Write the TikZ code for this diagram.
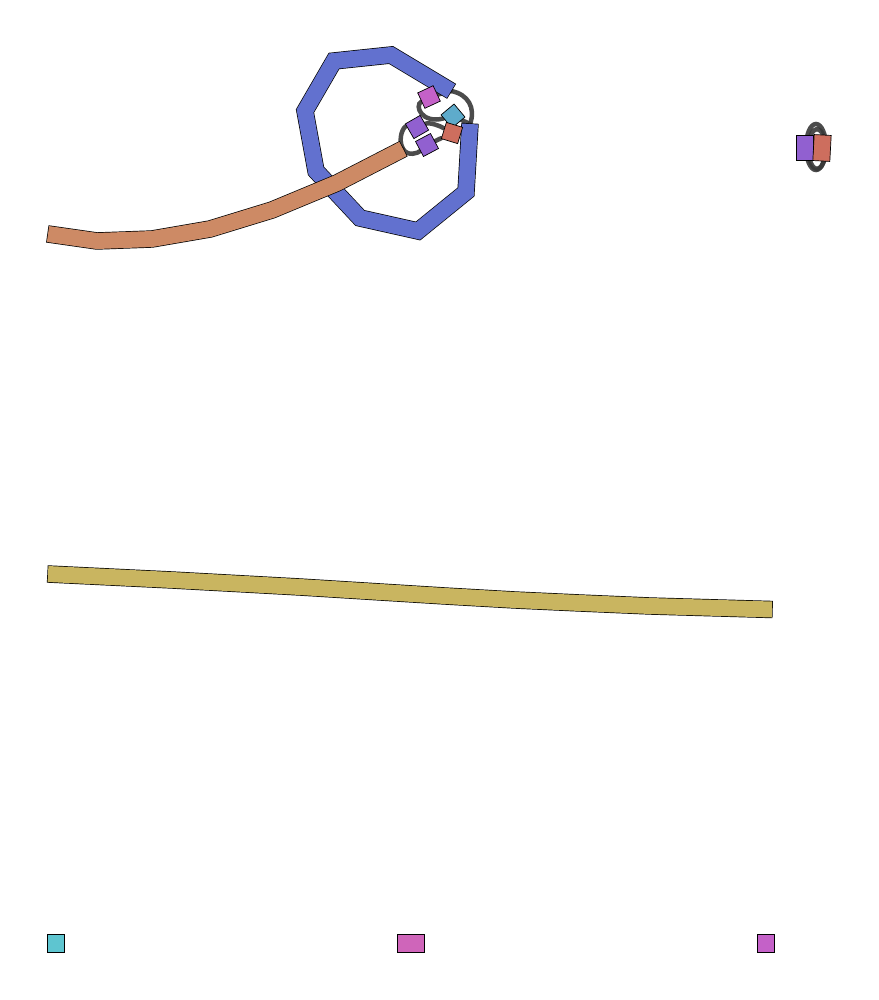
\documentclass[tikz,border=0pt]{standalone}
\usepackage{xcolor}
\usepackage{tikz}
\usetikzlibrary{backgrounds,calc}
\definecolor{ringblue}{RGB}{98,113,207}
\definecolor{armorange}{RGB}{205,138,101}
\definecolor{railyellow}{RGB}{201,181,96}
\definecolor{resmag}{RGB}{196,97,200}
\definecolor{rescyan}{RGB}{94,171,203}
\definecolor{resred}{RGB}{205,110,94}
\definecolor{respurple}{RGB}{145,96,208}
\definecolor{restea}{RGB}{94,197,208}
\definecolor{respink}{RGB}{207,101,186}
\tikzset{
  band/.style={line width=16pt, line join=miter, preaction={draw=black, line width=17.4pt, shorten <=-0.7pt, shorten >=-0.7pt}},
  res/.style={draw=black, line width=0.7pt, minimum size=17pt, inner sep=0pt},
  link/.style={draw=black!78, line width=4.5pt, opacity=0.9, line cap=round},
}

\begin{document}
\begin{tikzpicture}[x=1pt, y=-1pt]
\useasboundingbox (0,0) rectangle (878,1000);
% band ends
\coordinate (ringA) at (451,91);
\coordinate (ringB) at (470,124);
\coordinate (armEnd) at (403,149);
\coordinate (loopC) at (816,147);
% ring and arm
\draw[band, draw=ringblue] (ringA) -- (391,55) -- (334,61) -- (305,111) -- (316,171) -- (360,218) -- (418,231) -- (466,192) -- (ringB);
\draw[band, draw=armorange] (48,234) -- (97,241) -- (152,239) -- (210,229) -- (272,210) -- (337,183) -- (armEnd);
% long rail
\draw[band, draw=railyellow] (48,574) -- (172,580) -- (300,587) -- (445,596) -- (515,600) -- (580,603) -- (650,606) -- (772,609.5);
% residues
\node[res, fill=resmag, rotate=25] (mag) at (429,97) {};
\node[res, fill=rescyan, rotate=40] (cyan) at (453,116) {};
\node[res, fill=resred, rotate=-17] (red) at (452,133) {};
\node[res, fill=respurple, rotate=30] (pu1) at (417,127) {};
\node[res, fill=respurple, rotate=28] (pu2) at (427,145) {};
\node[res, fill=respurple, minimum width=17pt, minimum height=25pt] (pu3) at (805,148) {};
\node[res, fill=resred, rotate=-3, minimum width=17pt, minimum height=26pt] (red2) at (822,148) {};
\node[res, fill=restea, minimum width=17pt, minimum height=18pt] (sq1) at (55.5,943) {};
\node[res, fill=respink, minimum width=27pt, minimum height=18pt] (sq2) at (410.5,943) {};
\node[res, fill=resmag, minimum width=17pt, minimum height=18pt] (sq3) at (766,943) {};
% links
\begin{scope}[on background layer]
\draw[link] (ringA) .. controls (468,94) and (476,108) .. (ringB);
\draw[link] (mag) -- (ringA);
\draw[link] (mag) .. controls (414,106) and (422,124) .. (cyan);
\draw[link] (armEnd) .. controls (397,138) and (404,126) .. (pu1);
\draw[link] (armEnd) .. controls (408,157) and (418,153) .. (pu2);
\draw[link] (pu1) .. controls (430,122) and (440,126) .. (red);
\draw[link] (pu2) -- (red);
\draw[link] (cyan) -- (ringB);
\draw[link] (loopC) ellipse (10 and 23);
\draw[link] ($(loopC)+(1,2)$) ellipse (8.5 and 20);
\end{scope}
\end{tikzpicture}
\end{document}
